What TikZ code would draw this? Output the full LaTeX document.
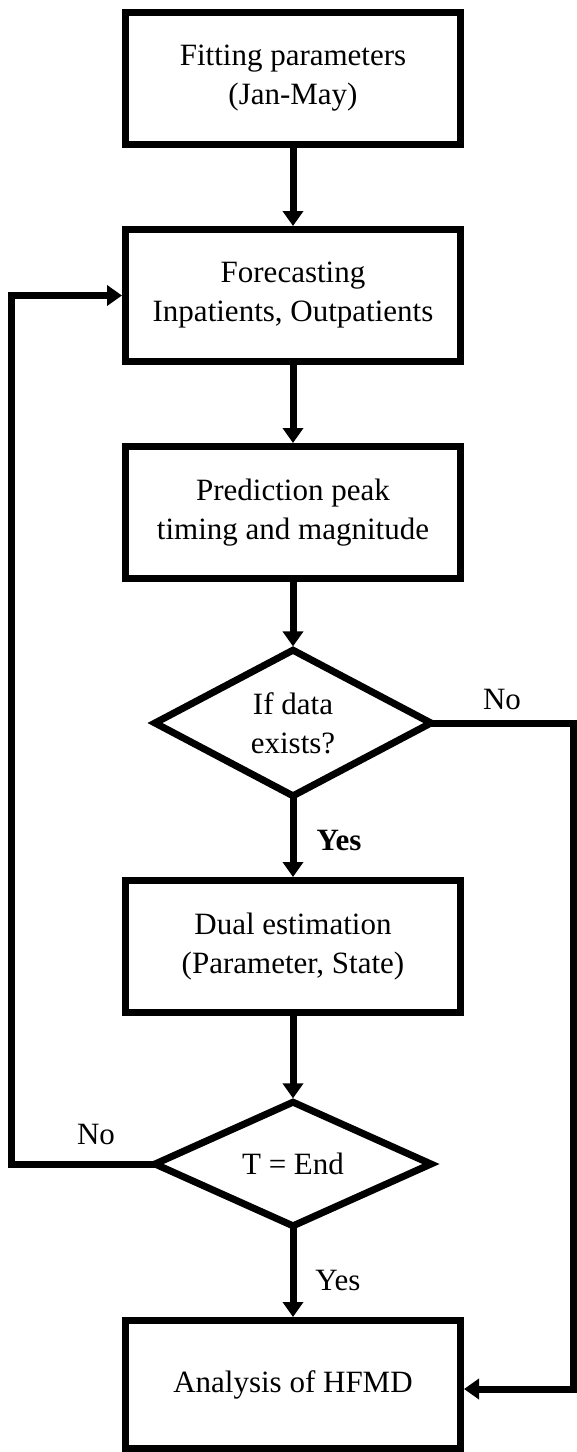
\documentclass[tikz,border=0pt]{standalone}
\usepackage{fontspec}
\setmainfont{Liberation Serif}
\usetikzlibrary{arrows.meta,shapes.geometric}
\begin{document}
\begin{tikzpicture}[x=1pt,y=-1pt,
  every node/.style={font=\fontsize{31}{39}\selectfont},
  procbox/.style={draw, line width=7pt, minimum width=335pt, minimum height=132pt,
    inner sep=0pt, align=center},
  decision/.style={draw, diamond, line width=7pt, minimum width=276pt, minimum height=118pt,
    inner sep=0pt, outer sep=0pt, align=center},
  flow/.style={line width=7pt, -{Triangle[length=15pt,width=20pt]}},
  lbl/.style={anchor=base, inner sep=0pt}
]
% page area
\path[use as bounding box, fill=white] (0,0) rectangle (577,1452);

% process steps and decisions
\node[procbox] (b1) at (293,78.5) {Fitting parameters\\(Jan-May)};
\node[procbox] (b2) at (293,295.5) {Forecasting\\Inpatients, Outpatients};
\node[procbox] (b3) at (293,512.5) {Prediction peak\\timing and magnitude};
\node[decision] (d1) at (293,723) {If data\\exists?};
\node[procbox] (b4) at (293,946.5) {Dual estimation\\(Parameter, State)};
\node[decision] (d2) at (293,1164) {T = End};
\node[procbox, minimum height=128pt] (b5) at (293,1384.5) {Analysis of HFMD};

% routing points of the side connectors
\coordinate (lc) at (11,1164);
\coordinate (rc) at (573.5,1389);

% main flow
\draw[flow] (b1.south) -- (b2.north);
\draw[flow] (b2.south) -- (b3.north);
\draw[flow, shorten >=3.8pt] (b3.south) -- (d1.north);
\draw[flow] (d1.south) -- (b4.north);
\draw[flow, shorten >=3.8pt] (b4.south) -- (d2.north);
\draw[flow] (d2.south) -- (b5.north);

% branches
\draw[flow] (d1.east) -| (rc) -- (rc -| b5.east);
\draw[flow] (d2.west) -- (lc) |- (b2.west);

% branch labels
\node[lbl] (yes1) at (339,850) {\bfseries Yes};
\node[lbl] (yes2) at (338,1290) {Yes};
\node[lbl] (no1) at (502,709) {No};
\node[lbl] (no2) at (96,1144) {No};
\end{tikzpicture}
\end{document}
